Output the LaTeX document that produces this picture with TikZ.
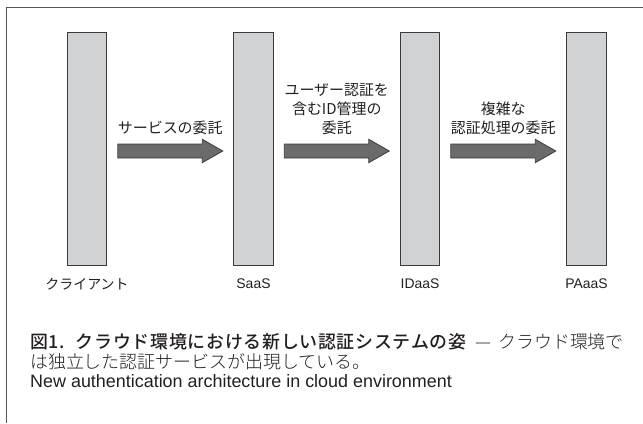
\documentclass[tikz,border=0pt]{standalone}
\usepackage{fontspec}
\setmainfont{Liberation Sans}
\newfontfamily\jpfont{Noto Sans CJK JP}[BoldFont={Noto Sans CJK JP Medium}]
\newfontfamily\jplight{Noto Sans CJK JP Light}
\usetikzlibrary{calc, positioning}

\definecolor{barfill}{HTML}{D1D2D4}
\definecolor{barline}{HTML}{3A3A3A}
\definecolor{arrowfill}{HTML}{6B6B6B}
\definecolor{framegray}{HTML}{555555}
\definecolor{inkblack}{HTML}{231F20}

% block arrow from bar #1 to bar #2, middle named #3
\newcommand{\bigarrow}[3]{%
  \coordinate (#3s) at ($(#1.east)+(10.5,2.5)$);
  \coordinate (#3t) at ($(#2.west)+(-10.5,2.5)$);
  \coordinate (#3) at ($(#3s)!0.5!(#3t)$);
  \filldraw[blockarrow] ($(#3s)+(0,-7)$) -- ($(#3t)+(-20.5,-7)$) -- ($(#3t)+(-20.5,-11.7)$)
    -- (#3t) -- ($(#3t)+(-20.5,11.7)$) -- ($(#3t)+(-20.5,7)$) -- ($(#3s)+(0,7)$) -- cycle;
}

\begin{document}
\begin{tikzpicture}[x=1bp, y=-1bp]

  % Styles
  \tikzset{
    bar/.style={draw=barline, fill=barfill, line width=1bp, inner sep=0pt,
      minimum width=39.5bp, minimum height=233bp},
    blockarrow/.style={draw=barline, fill=arrowfill, line width=0.8bp, line join=miter},
    barlabel/.style={inner sep=0pt, text=inkblack, font=\fontsize{14}{16}\selectfont},
    alabel/.style={inner sep=0pt, align=center, text=inkblack, font=\jpfont\fontsize{15}{19}\selectfont},
    caption/.style={inner sep=0pt, anchor=west, text=inkblack, font=\jplight\fontsize{18}{20}\selectfont},
    frame/.style={draw=framegray, line width=1bp}
  }

  \useasboundingbox (0,0) rectangle (643,423);

  % Outer frame (top and left edges only)
  \draw[frame] (6,423) -- (6,7.3) -- (643,7.3);

  % The four parties
  \node[bar] (client) at (87,148.5) {};
  \node[bar] (saas)   at (253.5,148.5) {};
  \node[bar] (idaas)  at (420,148.5) {};
  \node[bar] (paaas)  at (586.5,148.5) {};

  % Names under the bars
  \node[barlabel] (clientlbl) at (87,284)    {\jpfont クライアント};
  \node[barlabel] (saaslbl)   at (253.5,284) {SaaS};
  \node[barlabel] (idaaslbl)  at (420,284)   {IDaaS};
  \node[barlabel] (paaaslbl)  at (586.5,284) {PAaaS};

  % Delegation arrows
  \bigarrow{client}{saas}{a1}
  \bigarrow{saas}{idaas}{a2}
  \bigarrow{idaas}{paaas}{a3}

  \node[alabel, above=16bp of a1] (a1lbl) {サービスの委託};
  \node[alabel, above=16bp of a2] (a2lbl) {ユーザー認証を\\含むID管理の\\委託};
  \node[alabel, above=16bp of a3] (a3lbl) {複雑な\\認証処理の委託};

  % Caption
  \node[caption] (cap1) at (30,342)
    {{\jpfont\bfseries\addfontfeatures{LetterSpace=4}図1.\hspace{0.6em}クラウド環境における新しい認証システムの姿}\hspace{0.5em}—\hspace{0.4em}クラウド環境で};
  \node[caption] (cap2) at (30,362) {は独立した認証サービスが出現している。};
  \node[caption, font=\fontsize{18}{20}\selectfont] (cap3) at (30,381)
    {New authentication architecture in cloud environment};

\end{tikzpicture}
\end{document}
